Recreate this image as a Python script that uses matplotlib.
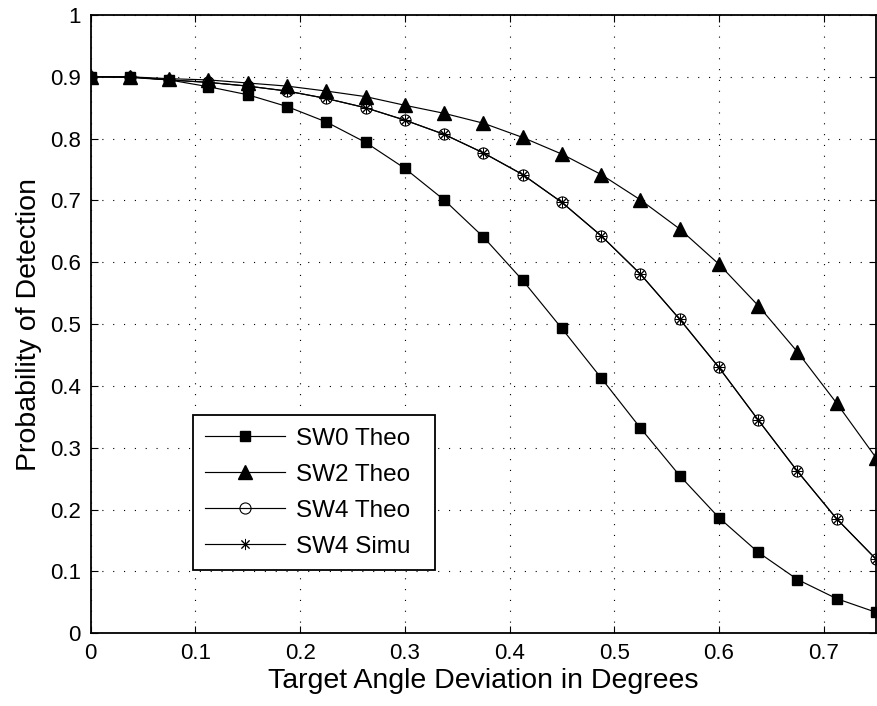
import numpy as np
import matplotlib
matplotlib.use("Agg")
import matplotlib.pyplot as plt

x_step = 0.0375
n_points = 21
x_vals = [i * x_step for i in range(n_points)]

sw0_theo = [0.900, 0.899, 0.895, 0.884, 0.871, 0.852, 0.827, 0.794, 0.752, 0.701,
            0.641, 0.571, 0.493, 0.413, 0.332, 0.255, 0.187, 0.131, 0.087, 0.056, 0.034]
sw2_theo = [0.900, 0.900, 0.897, 0.895, 0.890, 0.885, 0.877, 0.868, 0.854, 0.841,
            0.825, 0.802, 0.775, 0.742, 0.701, 0.654, 0.597, 0.530, 0.455, 0.372, 0.284]
sw4_theo = [0.900, 0.900, 0.895, 0.891, 0.885, 0.877, 0.865, 0.850, 0.830, 0.807,
            0.777, 0.742, 0.697, 0.643, 0.581, 0.508, 0.430, 0.345, 0.262, 0.185, 0.120]
sw4_simu = [0.900, 0.900, 0.895, 0.891, 0.885, 0.877, 0.865, 0.850, 0.830, 0.807,
            0.777, 0.742, 0.697, 0.643, 0.581, 0.508, 0.430, 0.345, 0.262, 0.185, 0.120]

labels = ["SW0 Theo", "SW2 Theo", "SW4 Theo", "SW4 Simu"]
x_ticks = [0, 0.1, 0.2, 0.3, 0.4, 0.5, 0.6, 0.7]
x_ticklabels = ["0", "0.1", "0.2", "0.3", "0.4", "0.5", "0.6", "0.7"]
y_ticks = [0, 0.1, 0.2, 0.3, 0.4, 0.5, 0.6, 0.7, 0.8, 0.9, 1.0]
y_ticklabels = ["0", "0.1", "0.2", "0.3", "0.4", "0.5", "0.6", "0.7", "0.8", "0.9", "1"]

plt.rcParams['font.family'] = ['Liberation Sans', 'DejaVu Sans']
plt.rcParams['lines.scale_dashes'] = False

W, H = 877, 706
fig = plt.figure(figsize=(W / 100, H / 100), dpi=100)
left, right, top, bottom = 90.7, 876.0, 15.0, 633.3
ax = fig.add_axes([left / W, 1 - bottom / H, (right - left) / W, (bottom - top) / H])

lw = 0.85
ax.plot(x_vals, sw0_theo, color='k', lw=lw, marker='s', ms=7.5, mfc='k', mec='k', label=labels[0])
ax.plot(x_vals, sw2_theo, color='k', lw=lw, marker='^', ms=9.5, mfc='k', mec='k', label=labels[1])
ax.plot(x_vals, sw4_theo, color='k', lw=lw, marker='o', ms=8, mfc='none', mec='k', mew=0.8, label=labels[2])
ax.plot(x_vals, sw4_simu, color='k', lw=lw, marker=(8, 2, 0), ms=8, mec='k', mew=0.7, label=labels[3])

ax.set_xlim(0, 0.75)
ax.set_ylim(0, 1)
ax.set_xticks(x_ticks)
ax.set_xticklabels(x_ticklabels)
ax.set_yticks(y_ticks)
ax.set_yticklabels(y_ticklabels)
ax.tick_params(direction='in', length=5, width=0.8, labelsize=16, top=True, right=True, pad=7)
for s in ax.spines.values():
    s.set_linewidth(1.3)

ax.grid(True, color='k', linestyle=(0, (0.8, 7)), linewidth=0.8)
ax.set_axisbelow(True)

ax.set_xlabel("Target Angle Deviation in Degrees", fontsize=20.5, labelpad=3)
ax.set_ylabel("Probability of Detection", fontsize=20.5, labelpad=6)

bx0 = (193 - left) / (right - left)
by0 = (bottom - 570) / (bottom - top)
bw = (435 - 193) / (right - left)
bh = (570 - 413) / (bottom - top)
leg = ax.legend(loc='lower left', bbox_to_anchor=(bx0, by0, bw, bh), mode='expand',
                borderaxespad=0, fontsize=17.5, handlelength=3.3, handletextpad=0.45,
                labelspacing=0.58, borderpad=0.5, fancybox=False, framealpha=1,
                edgecolor='k')
leg.get_frame().set_linewidth(1.3)

fig.savefig("out.png", dpi=100)
